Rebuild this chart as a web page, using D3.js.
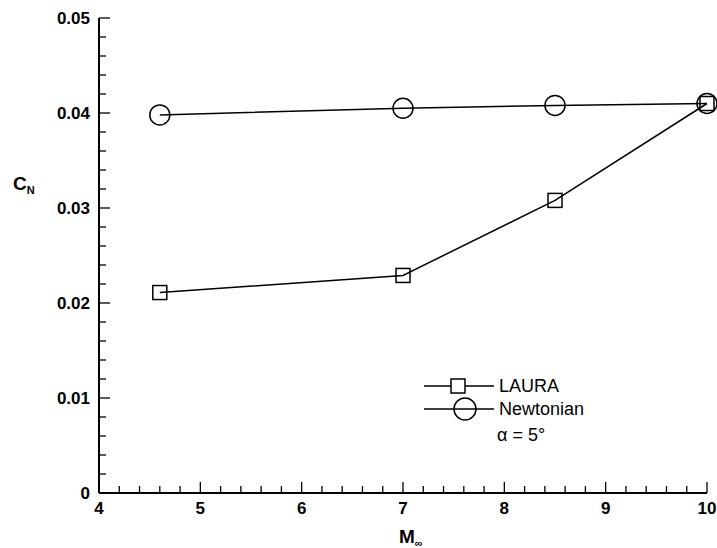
<!DOCTYPE html>
<html>
<head>
<meta charset="utf-8">
<script src="https://cdnjs.cloudflare.com/ajax/libs/d3/7.8.5/d3.min.js"></script>
<style>
  body { margin: 0; background: #fff; font-family: "Liberation Sans", Arial, Helvetica, sans-serif; }
  .lbl { font-weight: bold; font-size: 17px; fill: #000; }
  .leg { font-size: 18px; fill: #000; }
</style>
</head>
<body>
<svg width="717" height="548"></svg>
<script>
// values
var mach = [4.6, 7, 8.5, 10];
var laura = [0.0211, 0.0229, 0.0308, 0.0410];
var newtonian = [0.0398, 0.0405, 0.0408, 0.0410];
var xTicks = [4, 5, 6, 7, 8, 9, 10];
var yTicks = [0, 0.01, 0.02, 0.03, 0.04, 0.05];

var svg = d3.select("svg");

var x = d3.scaleLinear().domain([4, 10]).range([99, 707]);
var y = d3.scaleLinear().domain([0, 0.05]).range([493, 18]);

// axes: left and bottom only, ticks pointing in
var xMinor = d3.range(4, 10.001, 0.2);
var yMinor = d3.range(0, 0.05001, 0.002);

var ax = svg.append("g").attr("stroke", "#000");
ax.append("line").attr("x1", x(4)).attr("x2", x(10)).attr("y1", y(0)).attr("y2", y(0)).attr("stroke-width", 2);
ax.append("line").attr("x1", x(4)).attr("x2", x(4)).attr("y1", y(0)).attr("y2", y(0.05)).attr("stroke-width", 2);

ax.selectAll(".xm").data(xMinor).enter().append("line")
    .attr("x1", d => x(d)).attr("x2", d => x(d))
    .attr("y1", y(0)).attr("y2", d => y(0) - (Math.abs(d - Math.round(d)) < 1e-6 ? 11 : 7))
    .attr("stroke-width", 1.3);
ax.selectAll(".ym").data(yMinor).enter().append("line")
    .attr("y1", d => y(d)).attr("y2", d => y(d))
    .attr("x1", x(4)).attr("x2", d => x(4) + (Math.abs(d * 100 - Math.round(d * 100)) < 1e-6 ? 11 : 7))
    .attr("stroke-width", 1.3);

svg.selectAll(".xt").data(xTicks).enter().append("text")
    .attr("class", "lbl")
    .attr("x", d => x(d)).attr("y", y(0) + 21)
    .attr("text-anchor", "middle")
    .text(d => d);
svg.selectAll(".yt").data(yTicks).enter().append("text")
    .attr("class", "lbl")
    .attr("x", x(4) - 9).attr("y", d => y(d) + 6)
    .attr("text-anchor", "end")
    .text(d => d === 0 ? "0" : d3.format(".2f")(d));

// axis titles
var cn = svg.append("text").attr("class", "lbl").attr("x", 13).attr("y", 190).style("font-size", "19px");
cn.append("tspan").text("C");
cn.append("tspan").attr("dy", 4).style("font-size", "11px").text("N");
var mt = svg.append("text").attr("class", "lbl").attr("x", 399).attr("y", 543).style("font-size", "19px");
mt.append("tspan").text("M");
mt.append("tspan").attr("dy", 4).style("font-size", "11px").text("\u221E");

// series
var line = d3.line().x(d => x(d[0])).y(d => y(d[1]));
var lauraPts = mach.map((m, i) => [m, laura[i]]);
var newtPts = mach.map((m, i) => [m, newtonian[i]]);

svg.append("path").datum(newtPts).attr("d", line)
    .attr("fill", "none").attr("stroke", "#000").attr("stroke-width", 1.5);
svg.append("path").datum(lauraPts).attr("d", line)
    .attr("fill", "none").attr("stroke", "#000").attr("stroke-width", 1.5);

svg.selectAll(".cir").data(newtPts).enter().append("circle")
    .attr("cx", d => x(d[0])).attr("cy", d => y(d[1])).attr("r", 10)
    .attr("fill", "none").attr("stroke", "#000").attr("stroke-width", 1.5);
svg.selectAll(".sq").data(lauraPts).enter().append("rect")
    .attr("x", d => x(d[0]) - 7).attr("y", d => y(d[1]) - 7)
    .attr("width", 14).attr("height", 14)
    .attr("fill", "none").attr("stroke", "#000").attr("stroke-width", 1.5);

// legend
var lg = svg.append("g");
lg.append("line").attr("x1", 424).attr("x2", 494).attr("y1", 386).attr("y2", 386).attr("stroke", "#000").attr("stroke-width", 1.3);
lg.append("rect").attr("x", 451).attr("y", 379).attr("width", 14).attr("height", 14)
    .attr("fill", "#fff").attr("stroke", "#000").attr("stroke-width", 1.5);
lg.append("text").attr("class", "leg").attr("x", 499).attr("y", 392).text("LAURA");
lg.append("line").attr("x1", 424).attr("x2", 494).attr("y1", 409).attr("y2", 409).attr("stroke", "#000").attr("stroke-width", 1.3);
lg.append("circle").attr("cx", 465).attr("cy", 409).attr("r", 11)
    .attr("fill", "none").attr("stroke", "#000").attr("stroke-width", 1.5);
lg.append("text").attr("class", "leg").attr("x", 499).attr("y", 415).text("Newtonian");
lg.append("text").attr("class", "leg").attr("x", 497).attr("y", 441).text("\u03B1 = 5\u00B0");
</script>
</body>
</html>
